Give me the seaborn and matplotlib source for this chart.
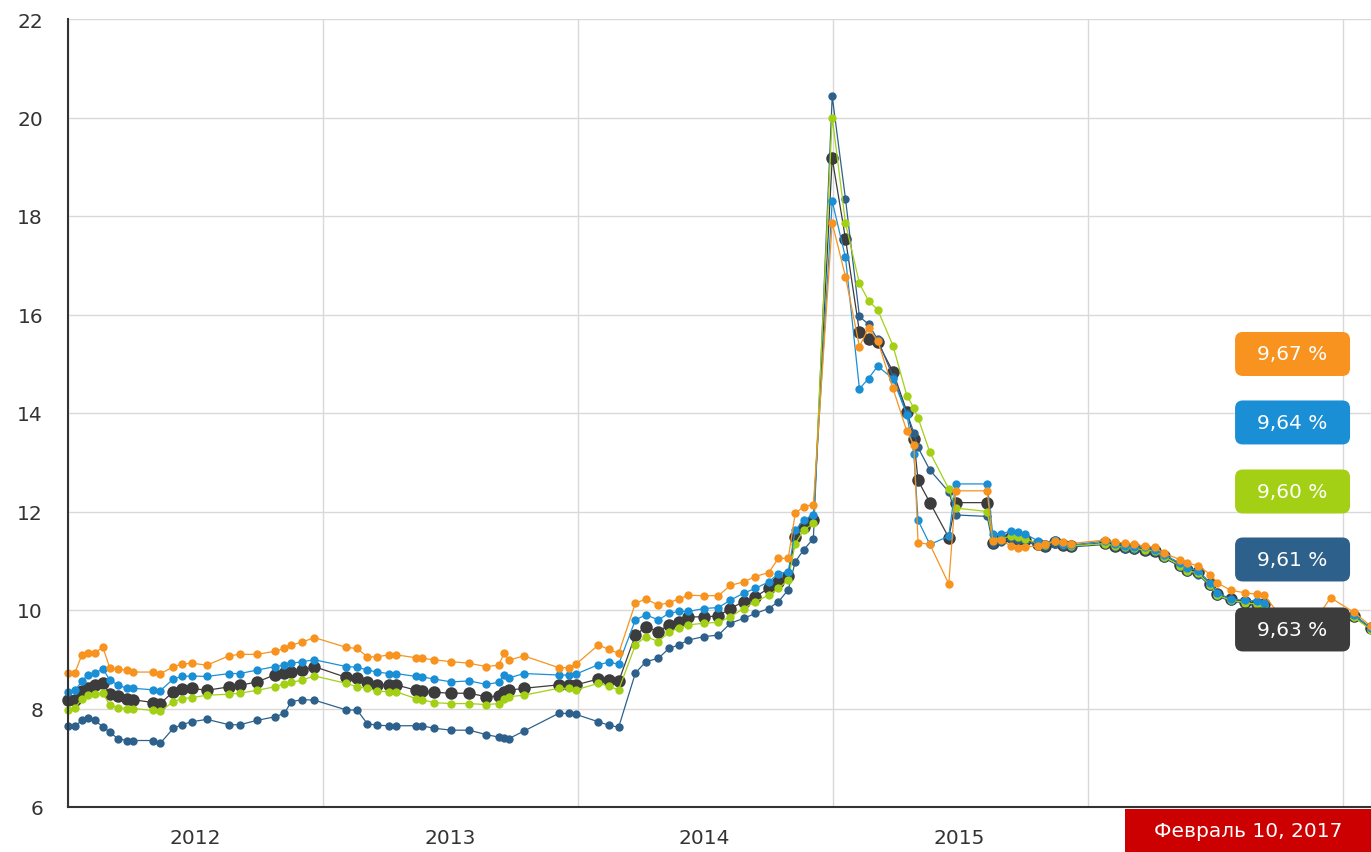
import pandas as pd
import seaborn as sns
import matplotlib
matplotlib.use('Agg')
import matplotlib.pyplot as plt
import matplotlib.dates as mdates
from matplotlib.ticker import NullFormatter, FuncFormatter
from matplotlib.patches import FancyBboxPatch, Rectangle

dates = [
    "2012-01-01", "2012-01-11", "2012-01-21", "2012-01-29", "2012-02-08", "2012-02-20",
    "2012-03-01", "2012-03-12", "2012-03-25", "2012-04-03", "2012-05-02", "2012-05-12",
    "2012-05-31", "2012-06-12", "2012-06-26", "2012-07-18", "2012-08-19", "2012-09-03",
    "2012-09-28", "2012-10-23", "2012-11-06", "2012-11-16", "2012-12-02", "2012-12-19",
    "2013-02-03", "2013-02-18", "2013-03-05", "2013-03-19", "2013-04-05", "2013-04-15",
    "2013-05-14", "2013-05-22", "2013-06-08", "2013-07-03", "2013-07-29", "2013-08-22",
    "2013-09-09", "2013-09-17", "2013-09-24", "2013-10-15", "2013-12-04", "2013-12-19",
    "2013-12-29",
    "2014-01-30", "2014-02-14", "2014-02-28", "2014-03-24", "2014-04-08", "2014-04-26",
    "2014-05-11", "2014-05-25", "2014-06-08", "2014-06-30", "2014-07-21", "2014-08-07",
    "2014-08-26", "2014-09-12", "2014-10-01", "2014-10-15", "2014-10-29", "2014-11-08",
    "2014-11-20", "2014-12-04", "2014-12-31",
    "2015-01-19", "2015-02-08", "2015-02-21", "2015-03-06", "2015-03-28", "2015-04-17",
    "2015-04-27", "2015-05-03", "2015-05-20", "2015-06-16", "2015-06-26", "2015-08-10",
    "2015-08-18", "2015-08-30", "2015-09-13", "2015-09-23", "2015-10-03", "2015-10-22",
    "2015-11-01", "2015-11-15", "2015-11-26", "2015-12-08",
    "2016-01-26", "2016-02-09", "2016-02-23", "2016-03-08", "2016-03-23", "2016-04-06",
    "2016-04-20", "2016-05-13", "2016-05-23", "2016-06-07", "2016-06-25", "2016-07-05",
    "2016-07-24", "2016-08-13", "2016-08-31", "2016-09-10", "2016-10-12", "2016-11-18",
    "2016-12-14", "2017-01-17", "2017-02-10",
]

orange = [
    8.73, 8.73, 9.09, 9.12, 9.13, 9.24, 8.82, 8.80, 8.78, 8.74, 8.74, 8.70,
    8.85, 8.90, 8.92, 8.88, 9.07, 9.10, 9.10, 9.16, 9.22, 9.29, 9.35, 9.44,
    9.24, 9.22, 9.05, 9.05, 9.09, 9.09, 9.03, 9.02, 8.99, 8.95, 8.92, 8.85,
    8.88, 9.12, 8.98, 9.07, 8.83, 8.83, 8.90,
    9.29, 9.20, 9.12, 10.14, 10.22, 10.10, 10.15, 10.22, 10.30, 10.29, 10.29, 10.50,
    10.57, 10.68, 10.76, 11.05, 11.05, 11.96, 12.10, 12.14, 17.86,
    16.77, 15.35, 15.72, 15.47, 14.50, 13.63, 13.35, 11.37, 11.33, 10.53, 12.42, 12.42,
    11.40, 11.42, 11.30, 11.25, 11.28, 11.30, 11.33, 11.40, 11.38, 11.35,
    11.42, 11.38, 11.36, 11.33, 11.30, 11.27, 11.15, 11.02, 10.95, 10.90, 10.72, 10.55,
    10.40, 10.35, 10.32, 10.30, 9.72, 9.70, 10.25, 9.95, 9.67,
]

blue = [
    8.34, 8.37, 8.55, 8.68, 8.72, 8.80, 8.58, 8.48, 8.41, 8.41, 8.38, 8.36,
    8.60, 8.65, 8.66, 8.65, 8.71, 8.71, 8.78, 8.85, 8.88, 8.92, 8.95, 8.99,
    8.85, 8.84, 8.78, 8.74, 8.71, 8.71, 8.65, 8.64, 8.60, 8.54, 8.56, 8.49,
    8.53, 8.68, 8.62, 8.71, 8.68, 8.68, 8.70,
    8.89, 8.94, 8.90, 9.80, 9.90, 9.80, 9.93, 9.97, 9.97, 10.03, 10.05, 10.20,
    10.34, 10.44, 10.57, 10.74, 10.78, 11.62, 11.82, 11.93, 18.30,
    17.16, 14.49, 14.70, 14.95, 14.70, 13.96, 13.16, 11.82, 11.33, 11.50, 12.56, 12.56,
    11.54, 11.55, 11.60, 11.58, 11.55, 11.40, 11.35, 11.42, 11.35, 11.32,
    11.40, 11.35, 11.30, 11.28, 11.27, 11.22, 11.12, 10.95, 10.85, 10.80, 10.55, 10.35,
    10.22, 10.20, 10.18, 10.15, 9.68, 9.66, 9.72, 9.90, 9.64,
]

green = [
    7.97, 8.01, 8.20, 8.27, 8.30, 8.31, 8.07, 8.02, 8.00, 8.00, 7.96, 7.94,
    8.14, 8.20, 8.22, 8.27, 8.29, 8.31, 8.37, 8.44, 8.50, 8.53, 8.58, 8.66,
    8.51, 8.44, 8.41, 8.35, 8.34, 8.34, 8.20, 8.18, 8.12, 8.10, 8.10, 8.08,
    8.10, 8.20, 8.24, 8.27, 8.41, 8.41, 8.38,
    8.51, 8.45, 8.38, 9.29, 9.46, 9.36, 9.55, 9.63, 9.70, 9.73, 9.75, 9.86,
    10.03, 10.17, 10.30, 10.44, 10.61, 11.35, 11.62, 11.76, 20.00,
    17.86, 16.63, 16.28, 16.10, 15.37, 14.35, 14.10, 13.90, 13.20, 12.46, 12.07, 12.00,
    11.45, 11.45, 11.50, 11.48, 11.45, 11.35, 11.32, 11.40, 11.33, 11.30,
    11.35, 11.30, 11.27, 11.25, 11.22, 11.20, 11.08, 10.90, 10.80, 10.75, 10.50, 10.30,
    10.20, 10.15, 10.12, 10.10, 9.64, 9.62, 9.68, 9.85, 9.60,
]

navy = [
    7.64, 7.64, 7.76, 7.80, 7.76, 7.63, 7.52, 7.39, 7.35, 7.35, 7.35, 7.29,
    7.60, 7.67, 7.73, 7.78, 7.67, 7.67, 7.76, 7.83, 7.90, 8.14, 8.18, 8.17,
    7.97, 7.97, 7.69, 7.66, 7.65, 7.65, 7.65, 7.65, 7.60, 7.56, 7.56, 7.47,
    7.42, 7.40, 7.39, 7.54, 7.90, 7.90, 7.88,
    7.73, 7.66, 7.62, 8.72, 8.95, 9.02, 9.22, 9.29, 9.39, 9.46, 9.49, 9.73,
    9.83, 9.93, 10.03, 10.17, 10.41, 10.98, 11.22, 11.45, 20.43,
    18.35, 15.96, 15.80, 15.50, 14.74, 14.00, 13.60, 13.30, 12.84, 12.40, 11.93, 11.90,
    11.35, 11.38, 11.45, 11.42, 11.40, 11.30, 11.28, 11.35, 11.30, 11.28,
    11.33, 11.27, 11.24, 11.22, 11.20, 11.17, 11.05, 10.88, 10.78, 10.72, 10.48, 10.28,
    10.18, 10.14, 10.10, 10.08, 9.65, 9.63, 9.69, 9.86, 9.61,
]

grey = [
    8.17, 8.17, 8.35, 8.41, 8.47, 8.51, 8.30, 8.25, 8.20, 8.18, 8.12, 8.10,
    8.34, 8.40, 8.41, 8.37, 8.44, 8.47, 8.54, 8.68, 8.72, 8.75, 8.78, 8.85,
    8.63, 8.61, 8.54, 8.48, 8.48, 8.48, 8.37, 8.36, 8.33, 8.31, 8.31, 8.24,
    8.25, 8.33, 8.37, 8.41, 8.48, 8.48, 8.48,
    8.60, 8.58, 8.55, 9.49, 9.66, 9.56, 9.70, 9.76, 9.86, 9.86, 9.88, 10.03,
    10.17, 10.27, 10.44, 10.57, 10.70, 11.49, 11.69, 11.82, 19.17,
    17.54, 15.65, 15.50, 15.44, 14.84, 14.03, 13.47, 12.63, 12.18, 11.47, 12.18, 12.18,
    11.37, 11.45, 11.48, 11.45, 11.42, 11.35, 11.30, 11.38, 11.32, 11.30,
    11.37, 11.30, 11.27, 11.25, 11.22, 11.20, 11.10, 10.92, 10.82, 10.78, 10.52, 10.32,
    10.22, 10.17, 10.13, 10.12, 9.66, 9.64, 9.70, 9.88, 9.63,
]

date_label = "Февраль 10, 2017"

df = pd.DataFrame({"date": pd.to_datetime(dates), "orange": orange, "blue": blue,
                   "green": green, "navy": navy, "grey": grey})

colors = {"orange": "#f7931e", "blue": "#1a8fd5", "green": "#a3d014",
          "navy": "#2d618b", "grey": "#3c3c3c"}
sizes = {"orange": 6, "blue": 6, "green": 6, "navy": 6, "grey": 9}
draw_order = ["grey", "navy", "green", "blue", "orange"]
label_order = ["orange", "blue", "green", "navy", "grey"]

sns.set_style("white")
plt.rcParams['font.family'] = ['DejaVu Sans']

fig = plt.figure(figsize=(13.71, 8.53), dpi=100)
ax = fig.add_axes([68 / 1371, 45 / 853, 1303 / 1371, 788 / 853])

for name in draw_order:
    sns.lineplot(data=df, x="date", y=name, ax=ax, color=colors[name], linewidth=0.9,
                 marker="o", markersize=sizes[name], markeredgewidth=0, clip_on=False)

ax.set_xlim(pd.Timestamp("2012-01-01"), pd.Timestamp("2017-02-10"))
ax.set_ylim(6, 22)
ax.set_yticks(range(6, 23, 2))
ax.set_xlabel("")
ax.set_ylabel("")


def year_label(x, pos):
    # the 2016 label sits under the red date tag in the original, so it is left out
    year = mdates.num2date(x).year
    return "" if year >= 2016 else str(year)


ax.xaxis.set_major_locator(mdates.YearLocator())
ax.xaxis.set_major_formatter(NullFormatter())
ax.xaxis.set_minor_locator(mdates.MonthLocator(bymonth=7, bymonthday=1))
ax.xaxis.set_minor_formatter(FuncFormatter(year_label))
ax.tick_params(axis="x", which="major", length=8, width=1.2, color="#333333")
ax.tick_params(axis="x", which="minor", length=0, pad=15, labelsize=14.5, labelcolor="#333333")
ax.tick_params(axis="y", length=8, width=1.2, color="#333333", pad=10,
               labelsize=14.5, labelcolor="#333333")
ax.grid(True, which="major", color="#d9d9d9", linewidth=1)
ax.set_axisbelow(True)

sns.despine(ax=ax)
for side in ["left", "bottom"]:
    ax.spines[side].set_color("#333333")
    ax.spines[side].set_linewidth(1.5)

# stacked value tags on the right
bw, bh = 115 / 1303, 44 / 788
cx = 0.9398
tag_y = [0.5749, 0.488, 0.4004, 0.3141, 0.2253]
for name, cy in zip(label_order, tag_y):
    last = df[name].iloc[-1]
    box = FancyBboxPatch((cx - bw / 2, cy - bh / 2), bw, bh,
                         boxstyle="round,pad=0,rounding_size=0.006",
                         mutation_aspect=1303 / 788, transform=ax.transAxes,
                         facecolor=colors[name], edgecolor="none", zorder=10, clip_on=False)
    ax.add_patch(box)
    ax.text(cx, cy, f"{last:.2f} %".replace(".", ","), transform=ax.transAxes,
            ha="center", va="center", color="white", fontsize=14.5, zorder=11)

# red date tag over the x axis
fig.add_artist(Rectangle((1125 / 1371, 0), 246 / 1371, 43 / 853, transform=fig.transFigure,
                         facecolor="#cc0000", edgecolor="none", zorder=5))
fig.text(1248 / 1371, 21 / 853, date_label, ha="center", va="center", color="white",
         fontsize=14.5, zorder=6)

fig.savefig("out.png", dpi=100)
plt.close(fig)
